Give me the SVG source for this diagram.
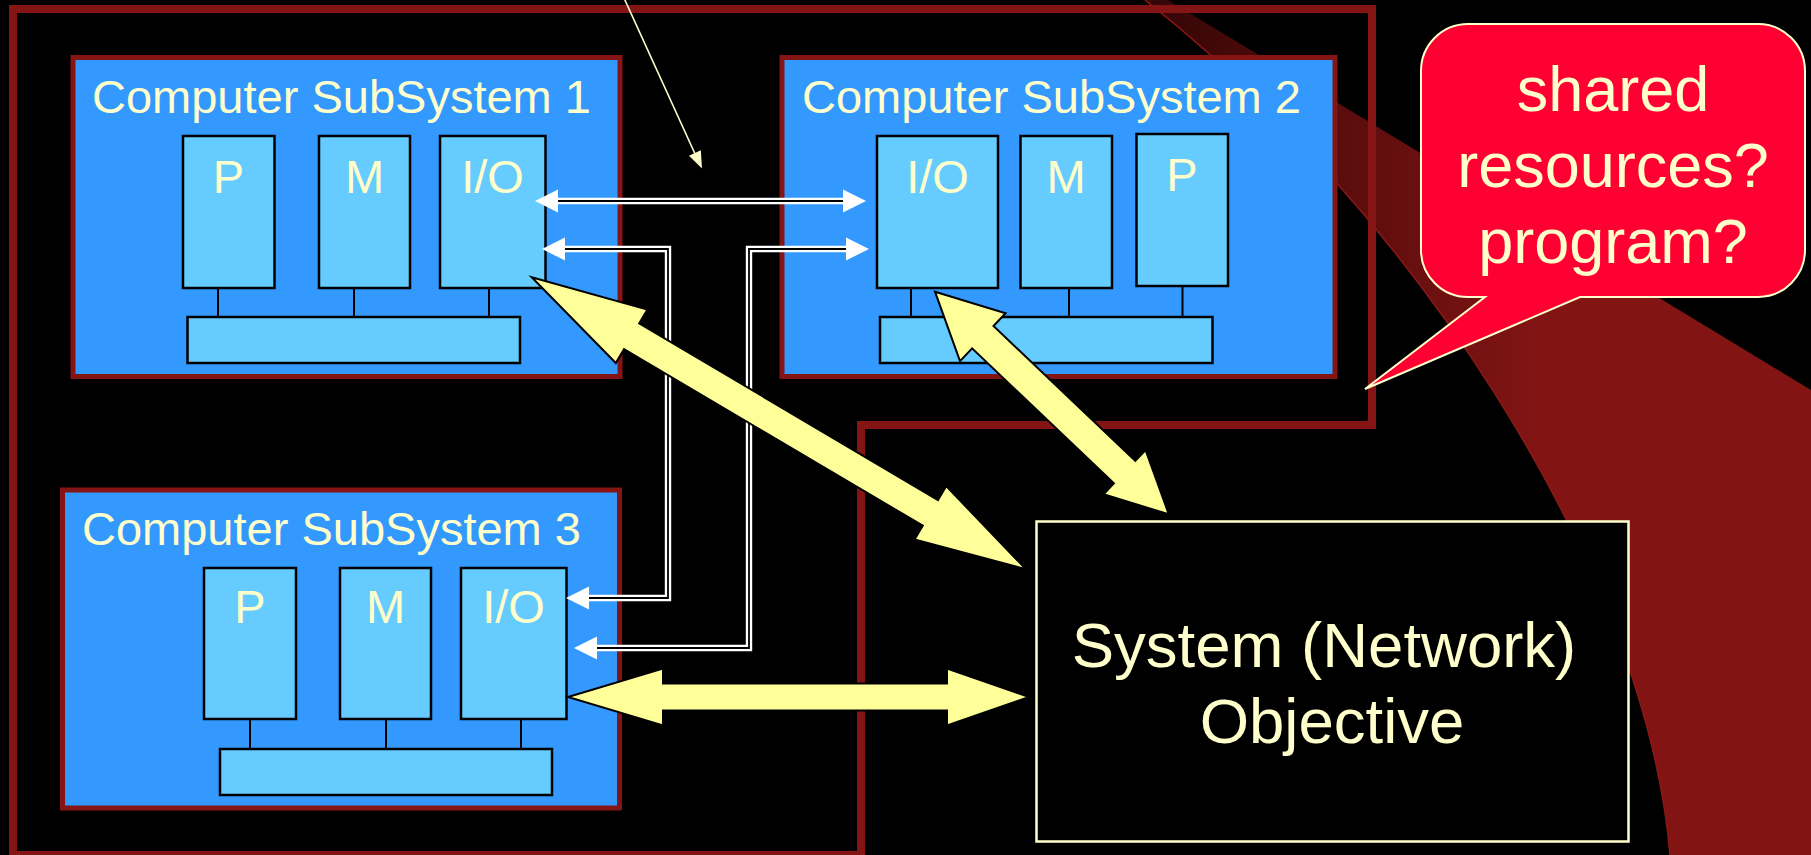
<svg xmlns="http://www.w3.org/2000/svg" width="1811" height="855" viewBox="0 0 1811 855">
  <defs>
    <linearGradient id="wedgeFade" gradientUnits="userSpaceOnUse" x1="1160" y1="0" x2="1540" y2="0">
      <stop offset="0" stop-color="#360606"/>
      <stop offset="1" stop-color="#821414"/>
    </linearGradient>
    <style>
      .frame { fill: none; stroke: #851414; stroke-width: 8; }
      .sub { fill: #3399ff; stroke: #851414; stroke-width: 5; }
      .unit { fill: #66ccff; stroke: #000; stroke-width: 2.5; }
      .tie { stroke: #000; stroke-width: 2; }
      .txt { font-family: "Liberation Sans", Arial, sans-serif; fill: #ffffcc; }
      .title { font-size: 47px; }
      .lbl { font-size: 47px; text-anchor: middle; }
      .big { font-size: 63.5px; text-anchor: middle; }
      .note { font-size: 63px; text-anchor: middle; }
      .dbl-o { fill: none; stroke: #fff; stroke-width: 6.4; stroke-linejoin: miter; }
      .dbl-i { fill: none; stroke: #000; stroke-width: 1.8; stroke-linejoin: miter; }
      .head { fill: #fff; }
      .fat { fill: #ffff99; stroke: #000; stroke-width: 2; stroke-linejoin: miter; }
    </style>
  </defs>

  <!-- backdrop -->
  <rect x="0" y="0" width="1811" height="855" fill="#000"/>
  <path d="M1145,0 C1400,200 1645,560 1670,855 L1811,855 L1811,390 L1168,0 Z" fill="url(#wedgeFade)"/>
  <path d="M1145,0 C1400,200 1645,560 1670,855" fill="none" stroke="#8c1818" stroke-width="1.5"/>

  <!-- enclosing outline -->
  <path class="frame" d="M13,855 L13,9 L1372,9 L1372,425 L861,425 L861,855 Z"/>

  <!-- Computer SubSystem 1 -->
  <g id="subsystem1">
    <rect class="sub" x="73" y="57.5" width="547" height="319"/>
    <text class="txt title" x="92" y="113">Computer SubSystem 1</text>
    <line class="tie" x1="218" y1="288" x2="218" y2="317"/>
    <line class="tie" x1="354" y1="288" x2="354" y2="317"/>
    <line class="tie" x1="489" y1="288" x2="489" y2="317"/>
    <rect class="unit" x="183" y="136" width="91.5" height="152"/>
    <rect class="unit" x="319" y="136" width="91" height="152"/>
    <rect class="unit" x="440" y="136" width="105.5" height="152"/>
    <rect class="unit" x="187.5" y="317" width="332.5" height="46"/>
    <text class="txt lbl" x="228.5" y="193">P</text>
    <text class="txt lbl" x="364.5" y="193">M</text>
    <text class="txt lbl" x="492.5" y="193">I/O</text>
  </g>

  <!-- Computer SubSystem 2 -->
  <g id="subsystem2">
    <rect class="sub" x="782" y="57.5" width="553" height="319"/>
    <text class="txt title" x="802" y="113">Computer SubSystem 2</text>
    <line class="tie" x1="911" y1="288" x2="911" y2="317"/>
    <line class="tie" x1="1069" y1="285" x2="1069" y2="317" stroke-width="3"/>
    <line class="tie" x1="1182.5" y1="286" x2="1182.5" y2="317"/>
    <rect class="unit" x="877" y="136" width="121" height="152"/>
    <rect class="unit" x="1020.5" y="136" width="91.5" height="152"/>
    <rect class="unit" x="1136.5" y="134" width="91.5" height="152"/>
    <rect class="unit" x="880" y="317" width="332.5" height="46"/>
    <text class="txt lbl" x="937.5" y="193">I/O</text>
    <text class="txt lbl" x="1066" y="193">M</text>
    <text class="txt lbl" x="1182" y="191">P</text>
  </g>

  <!-- Computer SubSystem 3 -->
  <g id="subsystem3">
    <rect class="sub" x="62.5" y="490" width="557" height="318"/>
    <text class="txt title" x="82" y="545">Computer SubSystem 3</text>
    <line class="tie" x1="250" y1="719" x2="250" y2="749"/>
    <line class="tie" x1="386" y1="719" x2="386" y2="749"/>
    <line class="tie" x1="521" y1="719" x2="521" y2="749"/>
    <rect class="unit" x="204" y="568" width="92" height="151"/>
    <rect class="unit" x="340" y="568" width="91" height="151"/>
    <rect class="unit" x="461" y="568" width="105.5" height="151"/>
    <rect class="unit" x="220" y="749" width="332" height="46"/>
    <text class="txt lbl" x="250" y="623">P</text>
    <text class="txt lbl" x="385.5" y="623">M</text>
    <text class="txt lbl" x="513.5" y="623">I/O</text>
  </g>

  <!-- System (Network) Objective -->
  <g id="objective">
    <rect x="1036.5" y="521.5" width="592" height="320" fill="#000" stroke="#ffffcc" stroke-width="2.5"/>
    <text class="txt big" x="1324" y="667">System (Network)</text>
    <text class="txt big" x="1332" y="743">Objective</text>
  </g>

  <!-- question callout -->
  <g id="callout">
    <path d="M1468,24 H1758 A47,47 0 0 1 1805,71 V250 A47,47 0 0 1 1758,297 H1580 L1365,389 L1485,297 H1468 A47,47 0 0 1 1421,250 V71 A47,47 0 0 1 1468,24 Z" fill="#ff0033" stroke="#ffffcc" stroke-width="2"/>
    <text class="txt note" x="1613" y="110.5">shared</text>
    <text class="txt note" x="1613" y="187">resources?</text>
    <text class="txt note" x="1613" y="263">program?</text>
  </g>

  <!-- links -->
  <g id="connectors">
    <!-- I/O to I/O channels (double lines) -->
    <path class="dbl-o" d="M558,201 H843"/>
    <path class="dbl-i" d="M558,201 H843"/>
    <polygon class="head" points="535,201 558,189.5 558,212.5"/>
    <polygon class="head" points="866,201 843,189.5 843,212.5"/>

    <path class="dbl-o" d="M565,249 H668 V598 H589"/>
    <path class="dbl-i" d="M565,249 H668 V598 H589"/>
    <polygon class="head" points="542,249 565,237.5 565,260.5"/>
    <polygon class="head" points="566,598 589,586.5 589,609.5"/>

    <path class="dbl-o" d="M846,249 H749 V648 H597"/>
    <path class="dbl-i" d="M846,249 H749 V648 H597"/>
    <polygon class="head" points="869,249 846,237.5 846,260.5"/>
    <polygon class="head" points="574,648 597,636.5 597,659.5"/>

    <!-- wide two-way arrows to the objective -->
    <polygon class="fat" points="531.7,277.3 647.4,309.6 639.2,323.4 938,500.1 946.2,486.1 1026,569.3 914.6,539.5 922.8,525.7 624,349.2 615.8,363"/>
    <polygon class="fat" points="935,291.7 1005.6,313.3 993.5,326 1135.3,460.9 1145.6,450.1 1168.8,514.3 1103.6,494.3 1113.9,483.4 972.1,348.4 960,361.1"/>
    <polygon class="fat" points="568,697 663,668.5 663,683.5 947,683.5 947,668.5 1029,697 947,725.5 947,710.5 663,710.5 663,725.5"/>

    <!-- pointer from above -->
    <line x1="624" y1="-2" x2="696" y2="156" stroke="#ffffcc" stroke-width="1.6"/>
    <polygon points="702,168.5 689,155.7 700.8,150.3" fill="#ffffcc"/>
  </g>
</svg>
